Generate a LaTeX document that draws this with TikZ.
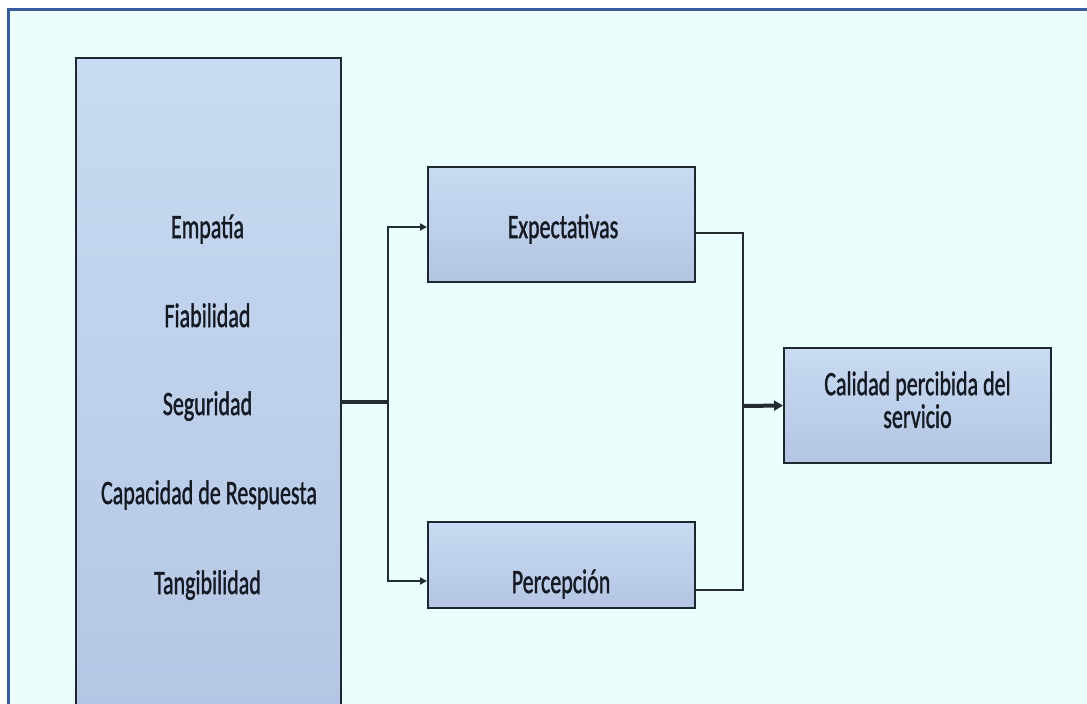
\documentclass[tikz,border=0pt]{standalone}
\usepackage{fontspec}
\setmainfont{Carlito}
\newfontfamily\heavyfont{Carlito}[FakeBold=1.5]
\usetikzlibrary{arrows.meta}
\definecolor{bg}{HTML}{EBFEFE}
\definecolor{framec}{HTML}{3A5A9E}
\definecolor{boxtop}{HTML}{C9DBF2}
\definecolor{boxbot}{HTML}{B3C5E2}
\definecolor{edge}{HTML}{1E2630}
\definecolor{ink}{HTML}{141923}
\definecolor{linec}{HTML}{252B33}
\newcommand{\stretched}[1]{\scalebox{1}[1.55]{#1}}
\tikzset{
  boxnode/.style={draw=edge, line width=2pt, top color=boxtop, bottom color=boxbot, inner sep=0pt},
  lbl/.style={font=\heavyfont\fontsize{22}{20}\selectfont, text=ink, inner sep=0pt},
  conn/.style={draw=linec, line width=2.5pt},
  tip/.style={-{Triangle[length=7pt,width=7pt]}}
}
\begin{document}
\begin{tikzpicture}[x=1pt,y=-1pt]
\useasboundingbox (0,0) rectangle (1087,704);
\fill[white] (0,0) rectangle (1087,704);
\fill[bg] (8.5,9.5) rectangle (1087,704);
\draw[framec, line width=3.5pt] (8.5,704) -- (8.5,9.5) -- (1087,9.5);

% boxes
\node[boxnode, minimum width=265pt, minimum height=680pt, anchor=north west] (dims) at (75,57) {};
\node[boxnode, minimum width=267pt, minimum height=115pt] (exp) at (561.5,224.5) {};
\node[boxnode, minimum width=267pt, minimum height=86pt] (perc) at (561.5,565) {};
\node[boxnode, minimum width=267pt, minimum height=115pt] (cal) at (917.5,405.5) {};

% texts
\node[lbl, anchor=base] (t1) at (207.5,238) {\stretched{Empatía}};
\node[lbl, anchor=base] (t2) at (207.5,327) {\stretched{Fiabilidad}};
\node[lbl, anchor=base] (t3) at (207.5,415) {\stretched{Seguridad}};
\node[lbl, anchor=base] (t4) at (209,504) {\stretched{Capacidad de Respuesta}};
\node[lbl, anchor=base] (t5) at (207.5,594) {\stretched{Tangibilidad}};
\node[lbl, anchor=base] (texp) at (563,238) {\stretched{Expectativas}};
\node[lbl, anchor=base] (tperc) at (561,593) {\stretched{Percepción}};
\node[lbl] (tcal) at (917.5,404.3) {\stretched{\begin{tabular}{@{}c@{}}Calidad percibida del\\servicio\end{tabular}}};

% connectors
\coordinate (j1) at (388,402);
\coordinate (j2) at (743,406);
\draw[conn, line width=3.5pt] (dims.east |- j1) -- (j1);
\draw[conn, tip] (j1) |- ([yshift=-2.5pt]exp.west);
\draw[conn, tip] (j1) |- ([yshift=-16pt]perc.west);
\draw[conn] ([yshift=-8.5pt]exp.east) -| (j2);
\draw[conn] ([yshift=-25pt]perc.east) -| (j2);
\draw[conn, line width=4pt, -{Triangle[length=9pt,width=10pt]}] (j2) -- (cal.west);
\end{tikzpicture}
\end{document}
